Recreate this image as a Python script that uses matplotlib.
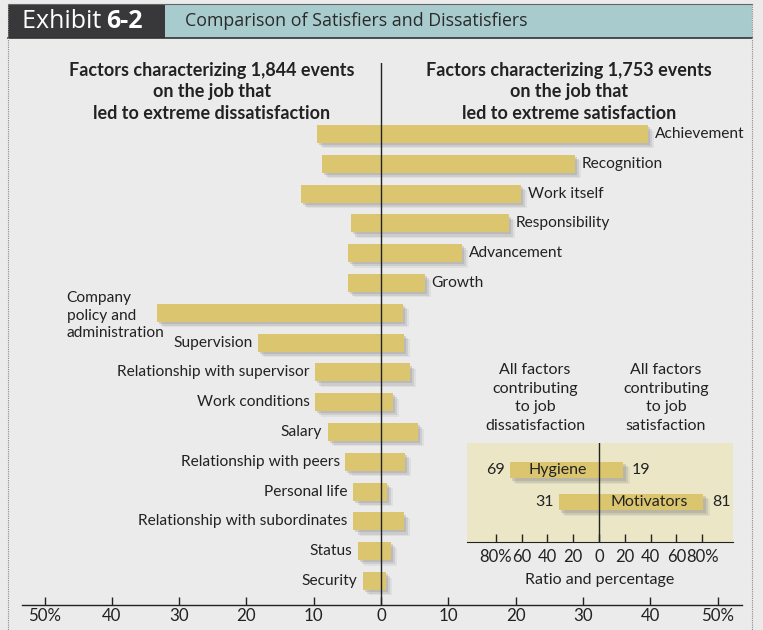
import matplotlib
matplotlib.use("Agg")
import matplotlib.pyplot as plt
from matplotlib.patches import Rectangle
import matplotlib.patheffects as pe

# ---------------- data ----------------
factors = ["Achievement", "Recognition", "Work itself", "Responsibility",
           "Advancement", "Growth", "Company\npolicy and\nadministration",
           "Supervision", "Relationship with supervisor", "Work conditions",
           "Salary", "Relationship with peers", "Personal life",
           "Relationship with subordinates", "Status", "Security"]
dissatisfaction = [9.5, 8.8, 11.9, 4.5, 4.9, 4.9, 33.3, 18.3, 9.8, 9.8,
                   7.9, 5.3, 4.1, 4.1, 3.4, 2.7]
satisfaction = [39.7, 28.8, 20.8, 19.0, 12.0, 6.5, 3.3, 3.4, 4.3, 1.8,
                5.5, 3.6, 0.9, 3.4, 1.5, 0.7]
label_side = ["right"] * 6 + ["block"] + ["left"] * 9
main_ticks = [-50, -40, -30, -20, -10, 0, 10, 20, 30, 40, 50]
main_ticklabels = ["50%", "40", "30", "20", "10", "0", "10", "20", "30", "40", "50%"]

summary_groups = ["Hygiene", "Motivators"]
summary_dis = [69, 31]
summary_sat = [19, 81]
inset_ticks = [-80, -60, -40, -20, 0, 20, 40, 60, 80]
inset_ticklabels = ["80%", "60", "40", "20", "0", "20", "40", "60", "80%"]

# ---------------- style ----------------
W, H = 763, 630
BG = "#ebebeb"
BAR = "#dbc56f"
INSET_BG = "#ebe6c6"
TXT = "#222222"
FONT = "Lato"
plt.rcParams["font.family"] = [FONT, "DejaVu Sans"]

fig = plt.figure(figsize=(W / 100, H / 100), dpi=100, facecolor=BG)


def fx(px):
    return px / W


def fy(py):
    return 1 - py / H


# frame + title bar
fig.patches.append(Rectangle((fx(8), fy(38)), fx(157), 34 / H, transform=fig.transFigure,
                             facecolor="#38383a", edgecolor="none", zorder=-1))
fig.patches.append(Rectangle((fx(165), fy(38)), fx(587), 34 / H, transform=fig.transFigure,
                             facecolor="#a8cbcd", edgecolor="none", zorder=-1))
fig.add_artist(plt.Line2D([fx(8), fx(752)], [fy(38), fy(38)], color="#333333", lw=1.2,
                          transform=fig.transFigure))
fig.add_artist(plt.Line2D([fx(8), fx(752)], [fy(4), fy(4)], color="#666666", lw=0.8,
                          transform=fig.transFigure))
for xb in (8, 752):
    fig.add_artist(plt.Line2D([fx(xb), fx(xb)], [fy(4), fy(630)], color="#8a8a8a", lw=0.8,
                              ls=(0, (1, 1)), transform=fig.transFigure))

fig.text(fx(22), fy(21), "Exhibit ", color="white", fontsize=18, family="Open Sans",
         va="center", ha="left")
fig.text(fx(106), fy(21), "6-2", color="white", fontsize=18, family="Open Sans",
         fontweight="bold", va="center", ha="left")
fig.text(fx(185), fy(21), "Comparison of Satisfiers and Dissatisfiers", color="#2a2a2a",
         fontsize=12.8, family="Open Sans", va="center", ha="left")

# headers
fig.text(fx(212), fy(92), "Factors characterizing 1,844 events\non the job that\nled to extreme dissatisfaction",
         ha="center", va="center", fontsize=13, fontweight="bold", color=TXT, linespacing=1.3)
fig.text(fx(569), fy(92), "Factors characterizing 1,753 events\non the job that\nled to extreme satisfaction",
         ha="center", va="center", fontsize=13, fontweight="bold", color=TXT, linespacing=1.3)

# ---------------- main axes ----------------
AX_BOTTOM = 605
ax = fig.add_axes([fx(22), fy(AX_BOTTOM), fx(720), (AX_BOTTOM - 63) / H])
ax.set_facecolor("none")
ax.set_xlim((22 - 381) / 6.73, (742 - 381) / 6.73)
spacing = 29.8
ax.set_ylim((AX_BOTTOM - 134) / spacing, (63 - 134) / spacing)

ypos = list(range(len(factors)))
shadow = [pe.SimplePatchShadow(offset=(1.5, -1.5), shadow_rgbFace="#808080", alpha=0.25),
          pe.SimplePatchShadow(offset=(3.0, -3.0), shadow_rgbFace="#808080", alpha=0.2),
          pe.SimplePatchShadow(offset=(4.5, -4.0), shadow_rgbFace="#909090", alpha=0.12),
          pe.Normal()]
bars = ax.barh(ypos, [d + s for d, s in zip(dissatisfaction, satisfaction)],
               left=[-d for d in dissatisfaction], height=0.6, color=BAR,
               edgecolor="none", zorder=3)
for b in bars:
    b.set_path_effects(shadow)

ax.axvline(0, color="#222222", lw=1.0, zorder=4)

for i, (name, d, s, side) in enumerate(zip(factors, dissatisfaction, satisfaction, label_side)):
    if side == "right":
        ax.annotate(name, (s, i), xytext=(5, 0), textcoords="offset points",
                    ha="left", va="center", fontsize=11.2, color=TXT)
    elif side == "left":
        ax.annotate(name, (-d, i), xytext=(-4, 0), textcoords="offset points",
                    ha="right", va="center", fontsize=11.2, color=TXT)
    else:
        ax.text(-46.7, i + 0.1, name, ha="left", va="center", fontsize=11.2,
                color=TXT, linespacing=1.3)

for sp in ("top", "left", "right"):
    ax.spines[sp].set_visible(False)
ax.spines["bottom"].set_color("#222222")
ax.spines["bottom"].set_linewidth(1.0)
ax.set_yticks([])
ax.set_xticks(main_ticks)
ax.set_xticklabels(main_ticklabels)
ax.tick_params(axis="x", direction="in", length=5.5, width=1.0, color="#222222",
               labelsize=12.2, labelcolor=TXT, pad=2)

# ---------------- inset ----------------
iax = fig.add_axes([fx(467), fy(542), fx(266), (542 - 443) / H])
iax.set_facecolor(INSET_BG)
iax.set_xlim(-102.3, 103.9)
isp = 32.0
iax.set_ylim((542 - 470) / isp, (443 - 470) / isp)
iy = [0, 1]
ibars = iax.barh(iy, [d + s for d, s in zip(summary_dis, summary_sat)],
                 left=[-d for d in summary_dis], height=0.53, color=BAR,
                 edgecolor="none", zorder=3)
for b in ibars:
    b.set_path_effects(shadow)
iax.axvline(0, color="#222222", lw=1.0, zorder=4)

iax.text(-summary_dis[0] + 14, 0, summary_groups[0], ha="left", va="center",
         fontsize=11.5, color=TXT, zorder=5)
iax.text(summary_sat[1] - 12, 1, summary_groups[1], ha="right", va="center",
         fontsize=11.5, color=TXT, zorder=5)
for j in range(2):
    iax.annotate(str(summary_dis[j]), (-summary_dis[j], j), xytext=(-4, 0),
                 textcoords="offset points", ha="right", va="center",
                 fontsize=11.5, color=TXT)
    iax.annotate(str(summary_sat[j]), (summary_sat[j], j), xytext=(6, 0),
                 textcoords="offset points", ha="left", va="center",
                 fontsize=11.5, color=TXT)

for sp in ("top", "left", "right"):
    iax.spines[sp].set_visible(False)
iax.spines["bottom"].set_color("#222222")
iax.set_yticks([])
iax.set_xticks(inset_ticks)
iax.set_xticklabels(inset_ticklabels)
iax.tick_params(axis="x", direction="in", length=6, width=1.0, color="#222222",
                labelsize=12, labelcolor=TXT, pad=5)

fig.text(fx(600), fy(580), "Ratio and percentage", ha="center", va="center",
         fontsize=11.5, color=TXT)
fig.text(fx(535), fy(398), "All factors\ncontributing\nto job\ndissatisfaction",
         ha="center", va="center", fontsize=11.5, color=TXT, linespacing=1.45)
fig.text(fx(666), fy(398), "All factors\ncontributing\nto job\nsatisfaction",
         ha="center", va="center", fontsize=11.5, color=TXT, linespacing=1.45)

fig.savefig("out.png", dpi=100, facecolor=BG)
